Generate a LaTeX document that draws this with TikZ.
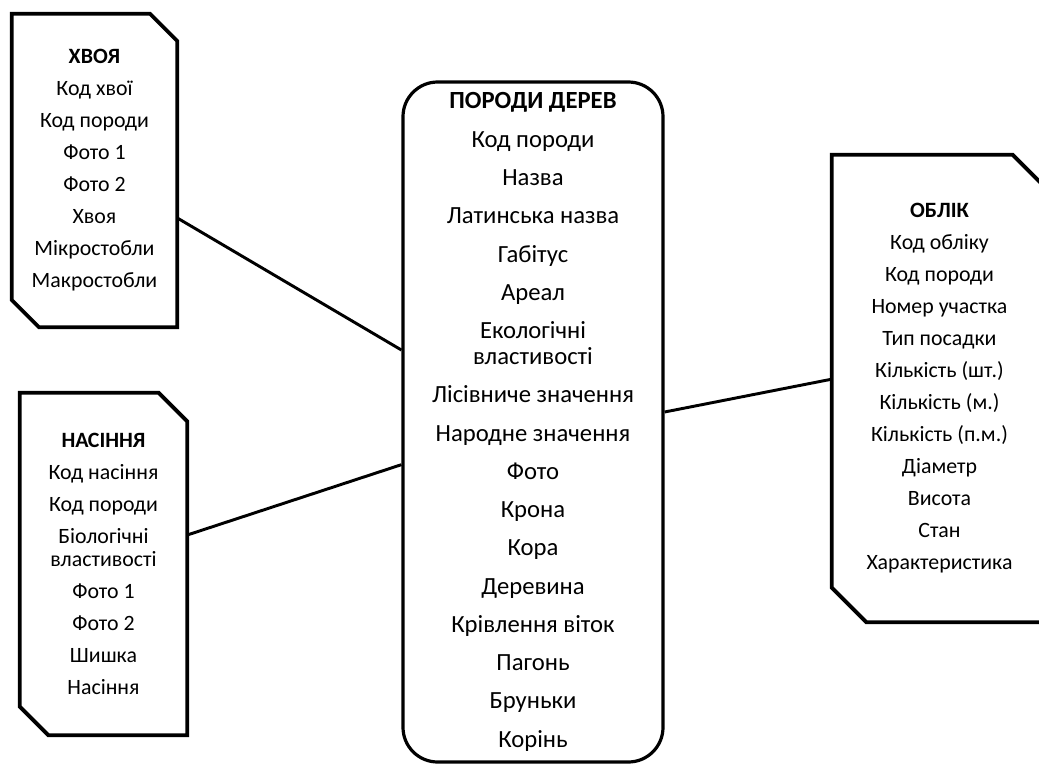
\documentclass[tikz,border=0pt]{standalone}
\usepackage{fontspec}
\setmainfont{Carlito}

% outline with two cut corners (north east, south west) round a named node
\newcommand\cutbox[2]{\draw[outline] (#1.north west) -- ([xshift=-#2]#1.north east)
  -- ([yshift=-#2]#1.north east) -- (#1.south east) -- ([xshift=#2]#1.south west)
  -- ([yshift=#2]#1.south west) -- cycle;}

\begin{document}
\begin{tikzpicture}[x=0.75pt,y=-0.75pt,
    table/.style={rectangle, align=center, inner sep=0pt, font=\fontsize{16.4}{24}\selectfont},
    outline/.style={line width=2.8pt, line join=miter},
    main/.style={rectangle, rounded corners=26pt, draw, line width=2.4pt, align=center,
      inner sep=0pt, font=\fontsize{18.5}{28.7}\selectfont},
    link/.style={line width=2.2pt}]
    \useasboundingbox (0,0) rectangle (1039,764);

    \node[main, minimum width=195pt, minimum height=510pt] (Porody) at (533,422)
      {\textbf{ПОРОДИ ДЕРЕВ}\\ Код породи\\ Назва\\ Латинська назва\\ Габітус\\ Ареал\\
       Екологічні\\[-9.2pt] властивості\\ Лісівниче значення\\ Народне значення\\ Фото\\
       Крона\\ Кора\\ Деревина\\ Крівлення віток\\ Пагонь\\ Бруньки\\ Корінь};
    \node[table, minimum width=123.75pt, minimum height=234.75pt] (Khvoya) at (94.5,170.5)
      {\textbf{ХВОЯ}\\ Код хвої\\ Код породи\\ Фото 1\\ Фото 2\\ Хвоя\\ Мікростобли\\ Макростобли};
    \node[table, minimum width=125.25pt, minimum height=256.5pt] (Nasinnya) at (103.5,564)
      {\textbf{НАСІННЯ}\\ Код насіння\\ Код породи\\ Біологічні\\[-6.75pt] властивості\\
       Фото 1\\ Фото 2\\ Шишка\\ Насіння};
    \node[table, minimum width=161.25pt, minimum height=350.25pt] (Oblik) at (939.5,388.5)
      {\textbf{ОБЛІК}\\ Код обліку\\ Код породи\\ Номер участка\\ Тип посадки\\ Кількість (шт.)\\
       Кількість (м.)\\ Кількість (п.м.)\\ Діаметр\\ Висота\\ Стан\\ Характеристика};

    \cutbox{Khvoya}{20.5pt}
    \cutbox{Nasinnya}{21.5pt}
    \cutbox{Oblik}{26pt}

    \draw[link] ([yshift=-35.6pt]Khvoya.east) -- ([yshift=54pt]Porody.west);
    \draw[link] ([yshift=21.75pt]Nasinnya.east) -- ([yshift=-32pt]Porody.west);
    \draw[link] ([yshift=7.5pt]Porody.east) -- ([yshift=7pt]Oblik.west);
\end{tikzpicture}
\end{document}
